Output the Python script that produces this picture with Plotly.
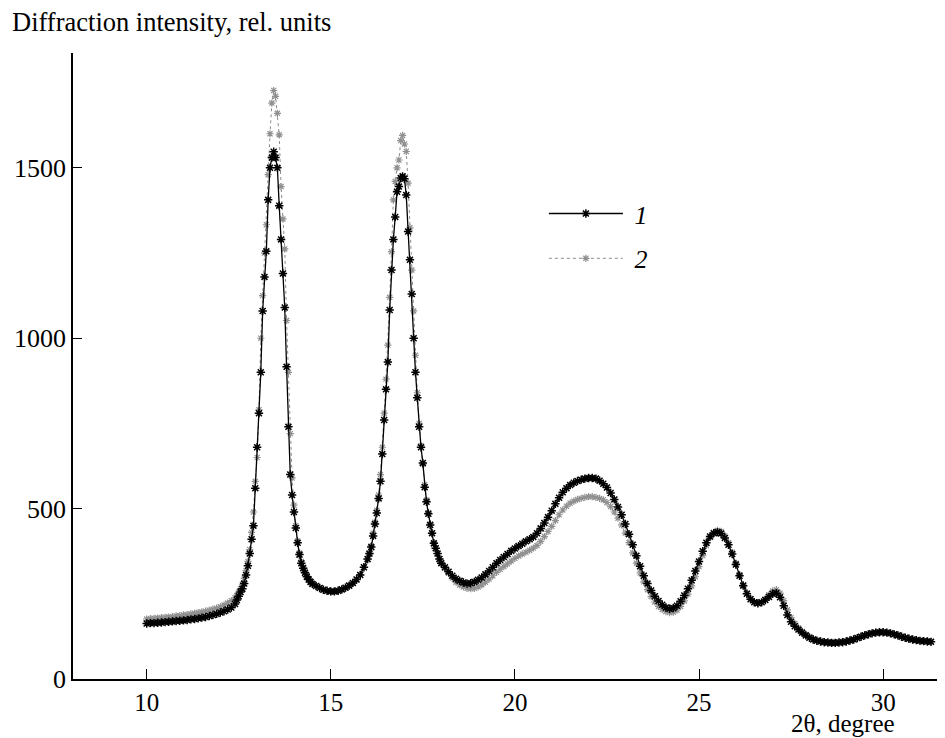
import plotly.graph_objects as go

# --- data (2theta in degrees, intensity in rel. units) ---
angle_a = [10.0, 10.1, 10.2, 10.3, 10.4, 10.5, 10.6, 10.7, 10.8, 10.9, 11.0, 11.1, 11.2,
           11.3, 11.4, 11.5, 11.6, 11.7, 11.8, 11.9, 12.0, 12.1, 12.2, 12.3, 12.4]
angle_b = [12.45, 12.5, 12.55, 12.6, 12.65, 12.7, 12.75, 12.8, 12.85, 12.9, 12.95,
           13.0, 13.05, 13.1, 13.15, 13.2, 13.25, 13.3, 13.35, 13.4, 13.45, 13.5, 13.55,
           13.6, 13.65, 13.7, 13.75, 13.8, 13.85, 13.9, 13.95,
           14.0, 14.05, 14.1, 14.15, 14.2, 14.25, 14.3, 14.35, 14.4, 14.45, 14.5]
angle_c = [14.6, 14.7, 14.8, 14.9, 15.0, 15.1, 15.2, 15.3, 15.4, 15.5, 15.6, 15.7, 15.8, 15.9]
angle_d = [16.0, 16.05, 16.1, 16.15, 16.2, 16.25, 16.3, 16.35, 16.4, 16.45,
           16.5, 16.55, 16.6, 16.65, 16.7, 16.75, 16.8, 16.85, 16.9, 16.95,
           17.0, 17.05, 17.1, 17.15, 17.2, 17.25, 17.3, 17.35, 17.4, 17.45,
           17.5, 17.55, 17.6, 17.65, 17.7, 17.75, 17.8, 17.85, 17.9, 17.95, 18.0]
angle_e = [18.1, 18.2, 18.3, 18.4, 18.5, 18.6, 18.7, 18.8, 18.9, 19.0,
           19.1, 19.2, 19.3, 19.4, 19.5, 19.6, 19.7, 19.8, 19.9, 20.0,
           20.1, 20.2, 20.3, 20.4, 20.5, 20.6, 20.7, 20.8, 20.9, 21.0,
           21.1, 21.2, 21.3, 21.4, 21.5, 21.6, 21.7, 21.8, 21.9, 22.0,
           22.1, 22.2, 22.3, 22.4, 22.5, 22.6, 22.7, 22.8, 22.9, 23.0,
           23.1, 23.2, 23.3, 23.4, 23.5, 23.6, 23.7, 23.8, 23.9, 24.0,
           24.1, 24.2, 24.3, 24.4, 24.5, 24.6, 24.7, 24.8, 24.9, 25.0,
           25.1, 25.2, 25.3, 25.4, 25.5, 25.6, 25.7, 25.8, 25.9, 26.0,
           26.1, 26.2, 26.3, 26.4, 26.5, 26.6, 26.7, 26.8, 26.9, 27.0,
           27.1, 27.2, 27.3, 27.4, 27.5, 27.6, 27.7, 27.8, 27.9, 28.0,
           28.1, 28.2, 28.3, 28.4, 28.5, 28.6, 28.7, 28.8, 28.9, 29.0,
           29.1, 29.2, 29.3, 29.4, 29.5, 29.6, 29.7, 29.8, 29.9, 30.0,
           30.1, 30.2, 30.3, 30.4, 30.5, 30.6, 30.7, 30.8, 30.9, 31.0,
           31.1, 31.2, 31.3]

s1_a = [163, 164, 164, 165, 166, 167, 168, 169, 170, 171, 172, 173, 175,
        176, 178, 180, 182, 185, 188, 191, 195, 199, 204, 210, 220]
s1_b = [232, 243, 255, 265, 280, 305, 332, 368, 410, 450, 560,
        680, 780, 900, 1080, 1180, 1255, 1406, 1500, 1530, 1547, 1530, 1500,
        1389, 1290, 1190, 1090, 916, 740, 600, 540,
        490, 443, 400, 365, 340, 325, 312, 300, 292, 285, 279]
s1_c = [273, 267, 262, 259, 257, 257, 259, 263, 268, 274, 282, 292, 305, 328]
s1_d = [352, 368, 387, 420, 455, 487, 530, 580, 660, 760,
        850, 930, 1083, 1200, 1290, 1356, 1430, 1445, 1470, 1475,
        1468, 1420, 1313, 1230, 1130, 1000, 900, 825, 740, 680,
        634, 563, 520, 485, 452, 428, 398, 384, 368, 352, 340]
s1_e = [328, 315, 303, 294, 288, 283, 280, 281, 285, 291,
        298, 307, 317, 328, 340, 349, 358, 367, 376, 383,
        390, 397, 404, 410, 417, 428, 442, 458, 475, 494,
        514, 532, 548, 560, 569, 576, 581, 585, 588, 590,
        590, 588, 582, 573, 562, 546, 527, 505, 482, 455,
        425, 394, 362, 331, 303, 280, 260, 243, 229, 218,
        210, 206, 208, 215, 228, 245, 265, 290, 317, 345,
        375, 400, 418, 428, 431, 427, 414, 394, 367, 336,
        303, 274, 250, 234, 225, 222, 225, 232, 241, 250,
        252, 240, 215, 188, 168, 155, 145, 136, 128, 121,
        116, 112, 110, 108, 107, 106, 106, 107, 108, 110,
        113, 116, 120, 124, 128, 131, 134, 136, 137, 137,
        136, 134, 131, 128, 124, 121, 118, 116, 114, 112,
        111, 110, 109]

s2_a = [176, 177, 178, 179, 180, 181, 182, 183, 185, 186, 188, 189, 191,
        193, 195, 197, 199, 202, 205, 208, 212, 217, 223, 230, 238]
s2_b = [245, 255, 265, 278, 295, 318, 345, 380, 430, 490, 580,
        650, 790, 1000, 1125, 1250, 1333, 1480, 1600, 1690, 1727, 1710, 1660,
        1597, 1445, 1350, 1262, 1052, 900, 720, 590,
        510, 450, 405, 370, 345, 328, 315, 303, 294, 287, 281]
s2_c = [274, 267, 262, 258, 256, 256, 258, 262, 267, 273, 281, 292, 306, 328]
s2_d = [350, 366, 390, 428, 460, 495, 540, 600, 680, 780,
        880, 980, 1120, 1254, 1406, 1460, 1500, 1523, 1580, 1595,
        1570, 1548, 1455, 1324, 1200, 1080, 950, 840, 750, 685,
        630, 570, 525, 488, 455, 428, 400, 383, 368, 353, 342]
s2_e = [325, 310, 296, 284, 276, 270, 266, 265, 266, 270,
        276, 284, 293, 303, 313, 322, 330, 338, 346, 354,
        361, 367, 372, 378, 384, 392, 404, 418, 433, 448,
        465, 482, 496, 507, 516, 522, 527, 530, 533, 535,
        535, 533, 530, 526, 518, 506, 490, 472, 452, 428,
        400, 370, 340, 311, 285, 262, 242, 226, 213, 204,
        198, 195, 196, 202, 213, 229, 249, 273, 300, 330,
        362, 392, 415, 430, 436, 433, 420, 400, 372, 340,
        306, 276, 252, 236, 226, 222, 225, 234, 247, 258,
        262, 252, 230, 203, 180, 163, 150, 140, 131, 124,
        118, 114, 111, 109, 108, 107, 107, 108, 109, 111,
        114, 117, 121, 125, 129, 132, 135, 137, 138, 138,
        137, 135, 132, 129, 125, 122, 119, 117, 115, 113,
        112, 111, 110]

x_ticks = [10, 15, 20, 25, 30]
y_ticks = [0, 500, 1000, 1500]
series_names = ["\u00a0<i>1</i>", "\u00a0<i>2</i>"]

angles = angle_a + angle_b + angle_c + angle_d + angle_e
series1 = s1_a + s1_b + s1_c + s1_d + s1_e
series2 = s2_a + s2_b + s2_c + s2_d + s2_e

FONT = "Liberation Serif, Times New Roman, serif"

fig = go.Figure()
fig.add_trace(go.Scatter(
    x=angles, y=series2, name=series_names[1], mode="lines+markers",
    line=dict(color="#8c8c8c", width=1, dash="dot"),
    marker=dict(symbol="asterisk-open", size=6, color="#909090",
                line=dict(color="#909090", width=1.2)),
    legendgroup="g2", legendrank=2,
))
fig.add_trace(go.Scatter(
    x=angles, y=series1, name=series_names[0], mode="lines+markers",
    line=dict(color="black", width=1.3),
    marker=dict(symbol="asterisk-open", size=7, color="black",
                line=dict(color="black", width=1.5)),
    legendgroup="g1", legendrank=1,
))

# page body has an 8px margin, so the figure is sized/placed to compensate
fig.update_layout(
    width=937, height=730,
    margin=dict(l=65, r=0, t=45, b=59),
    paper_bgcolor="white", plot_bgcolor="white",
    font=dict(family=FONT, size=26, color="black"),
    showlegend=True,
    legend=dict(x=0.540, y=0.781, xanchor="left", yanchor="top",
                bgcolor="rgba(0,0,0,0)", itemwidth=74, tracegroupgap=8,
                font=dict(family=FONT, size=26, color="black")),
    xaxis=dict(range=[8.0, 31.68], tickvals=x_ticks, ticks="inside", ticklen=10,
               tickwidth=1.2, tickcolor="black", showline=True, linecolor="black",
               linewidth=1.6, showgrid=False, zeroline=False,
               tickfont=dict(family=FONT, size=25)),
    yaxis=dict(range=[0, 1837], tickvals=y_ticks, ticks="inside", ticklen=9,
               tickwidth=1.2, tickcolor="black", showline=True, linecolor="black",
               linewidth=1.6, showgrid=False, zeroline=False,
               tickfont=dict(family=FONT, size=26)),
    annotations=[
        dict(text="Diffraction intensity, rel. units", xref="paper", yref="paper",
             x=-0.072, y=1.0495, xanchor="left", yanchor="middle", showarrow=False,
             font=dict(family=FONT, size=26.5)),
        dict(text="2θ, degree", xref="paper", yref="paper",
             x=0.945, y=-0.0715, xanchor="right", yanchor="middle", showarrow=False,
             font=dict(family=FONT, size=25)),
    ],
)

fig.write_html("out.html")
